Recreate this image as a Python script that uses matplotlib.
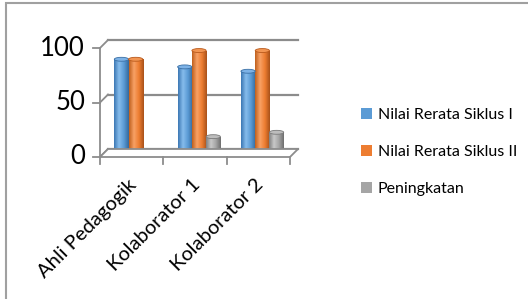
import numpy as np
import matplotlib
matplotlib.use("Agg")
import matplotlib.pyplot as plt
from matplotlib.patches import Ellipse, Polygon, Patch, Rectangle
from matplotlib.transforms import offset_copy
from matplotlib.colors import LinearSegmentedColormap
from matplotlib.lines import Line2D

plt.rcParams['font.family'] = ['Lato', 'DejaVu Sans']

categories = ["Ahli Pedagogik", "Kolaborator 1", "Kolaborator 2"]
series_names = ["Nilai Rerata Siklus I", "Nilai Rerata Siklus II", "Peningkatan"]
siklus1 = [86, 79, 75]
siklus2 = [86, 94, 94]
peningkatan = [0, 15, 19]
yticks = [0, 50, 100]

base_colors = ["#5B9BD5", "#ED7D31", "#A5A5A5"]
shade = [("#3C78B4", "#86BCEC", "#5B9BD5", "#34689C"),
         ("#C0601E", "#F8A165", "#ED7D31", "#A9521A"),
         ("#808080", "#C8C8C8", "#A5A5A5", "#6E6E6E")]
top_colors = ["#7DB2E6", "#F29552", "#BDBDBD"]
edge_colors = ["#3A6FA5", "#B9591B", "#7A7A7A"]

W, H, DPI = 528, 299, 100
fig = plt.figure(figsize=(W / DPI, H / DPI), dpi=DPI)

# axes = mid-depth plane
x0p, x1p = 104, 294
y0p, y1p = 153, 44
ax = fig.add_axes([x0p / W, 1 - y0p / H, (x1p - x0p) / W, (y0p - y1p) / H])
ax.set_xlim(0, 3)
ax.set_ylim(0, 100)
ax.axis('off')

d = 4  # half depth in px
front = offset_copy(ax.transData, fig=fig, x=-d, y=-d, units='dots')
back = offset_copy(ax.transData, fig=fig, x=d, y=d, units='dots')
gcol = "#8C8C8C"

# floor
pts_front = [front.transform((0, 0)), front.transform((3, 0))]
pts_back = [back.transform((3, 0)), back.transform((0, 0))]
poly = Polygon(pts_front + pts_back, closed=True, transform=None,
               facecolor="white", edgecolor=gcol, lw=1.3, zorder=1)
fig.add_artist(poly)

# back wall gridlines and side wall lines
for v in yticks:
    ax.plot([0, 3], [v, v], color=gcol, lw=1.6, transform=back, clip_on=False, zorder=0.5)
    p1 = front.transform((0, v)); p2 = back.transform((0, v))
    fig.add_artist(Line2D([p1[0], p2[0]], [p1[1], p2[1]], transform=None, color=gcol, lw=1.3, zorder=0.5))
ax.plot([0, 0], [0, 100], color=gcol, lw=1.3, transform=front, clip_on=False)
for v in yticks:
    ax.plot([-7 / ((x1p - x0p) / 3), 0], [v, v], color=gcol, lw=1.3, transform=front, clip_on=False)
for i in range(4):
    p = front.transform((i, 0))
    fig.add_artist(Line2D([p[0], p[0]], [p[1], p[1] - 7], transform=None, color=gcol, lw=1.3))

# bars
bw = 0.225
xs = np.arange(3) + 0.5
ell_h = 3.6
data = [siklus1, siklus2, peningkatan]
for k, vals in enumerate(data):
    cmap = LinearSegmentedColormap.from_list("c%d" % k, list(shade[k]))
    grad = np.linspace(0, 1, 64).reshape(1, -1)
    bars = ax.bar(xs + (k - 1) * bw, vals, width=bw, color=base_colors[k], zorder=2, lw=0)
    for b, v in zip(bars, vals):
        xl = b.get_x(); xr = xl + b.get_width(); xc = (xl + xr) / 2
        ax.add_patch(Ellipse((xc, 0), bw, ell_h, facecolor=shade[k][3], edgecolor='none', zorder=2))
        if v > 0:
            im = ax.imshow(grad, cmap=cmap, aspect='auto', extent=[xl, xr, 0, v], zorder=2.1)
            im.set_clip_path(b)
        ax.add_patch(Ellipse((xc, v), bw, ell_h, facecolor=top_colors[k], edgecolor=edge_colors[k], lw=0.6, zorder=2.2))
ax.set_xlim(0, 3)
ax.set_ylim(0, 100)

# y tick labels
for v in yticks:
    ax.text(0, v, str(v), transform=offset_copy(ax.transData, fig=fig, x=-d - 15, y=-d, units='dots'),
            ha='right', va='center', fontsize=18.5, color="#000000")

# x tick labels
for i, c in enumerate(categories):
    ax.text(i + 0.5, 0, c, transform=offset_copy(ax.transData, fig=fig, x=-d + 2, y=-d - 25, units='dots'),
            ha='right', va='center', rotation=45, rotation_mode='anchor', fontsize=14.5, color="#000000")

# legend
handles = [Patch(facecolor=c, edgecolor='none') for c in base_colors]
fig.legend(handles, series_names, loc='center left', bbox_to_anchor=(355 / W, 1 - 152 / H),
           frameon=False, fontsize=11.5, handlelength=0.68, handleheight=0.68, handletextpad=0.35,
           labelspacing=1.43, borderaxespad=0)

# chart border (top and left visible)
fig.add_artist(Rectangle((6 / W, -0.05), 1.2, (1 - 3 / H) + 0.05, transform=fig.transFigure,
                         fill=False, edgecolor="#A0A0A0", lw=1.5))

fig.savefig("out.png", dpi=DPI)
